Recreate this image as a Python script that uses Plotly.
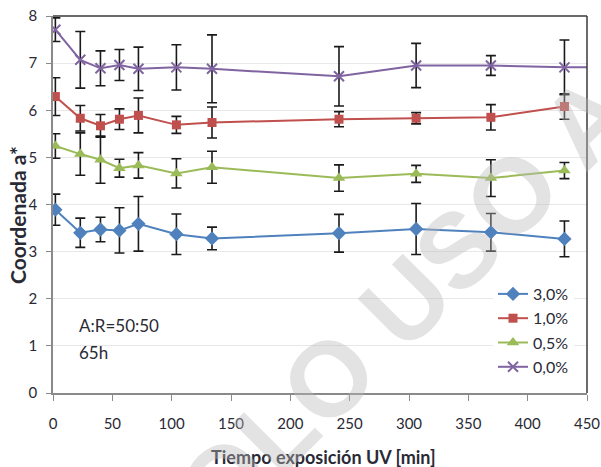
import plotly.graph_objects as go

# ---------------- data ----------------
time_min = [2, 23, 40, 56, 72, 104, 134, 241, 306, 369, 431]

a_30 = [3.89, 3.40, 3.47, 3.45, 3.59, 3.37, 3.28, 3.39, 3.48, 3.41, 3.27]
e_30 = [0.33, 0.31, 0.26, 0.48, 0.58, 0.43, 0.24, 0.40, 0.54, 0.40, 0.38]

a_10 = [6.29, 5.83, 5.67, 5.81, 5.89, 5.69, 5.74, 5.81, 5.83, 5.85, 6.08]
e_10 = [0.40, 0.27, 0.24, 0.22, 0.37, 0.18, 0.33, 0.16, 0.12, 0.27, 0.27]

a_05 = [5.24, 5.07, 4.95, 4.77, 4.83, 4.66, 4.79, 4.56, 4.65, 4.56, 4.72]
e_05 = [0.26, 0.45, 0.50, 0.19, 0.27, 0.31, 0.34, 0.28, 0.18, 0.39, 0.17]

time_00 = [2, 23, 40, 56, 72, 104, 134, 241, 306, 369, 431, 470]
a_00 = [7.71, 7.07, 6.89, 6.96, 6.88, 6.91, 6.88, 6.72, 6.95, 6.95, 6.91, 6.92]
e_00 = [0.25, 0.60, 0.37, 0.33, 0.46, 0.48, 0.72, 0.63, 0.47, 0.21, 0.58, 0.0]

series_names = ["3,0%", "1,0%", "0,5%", "0,0%"]
x_ticks = [0, 50, 100, 150, 200, 250, 300, 350, 400, 450]
y_ticks = [0, 1, 2, 3, 4, 5, 6, 7, 8]

# ---------------- styles ----------------
FONT = "Lato"
TXT = "#2a2a35"
colors = ["#4F81BD", "#C0504D", "#9BBB59", "#8064A2"]
symbols = ["diamond", "square", "triangle-up", "x-thin-open"]
sizes = [11, 9, 11, 10]

L, R, T, B = 53, 14, 16, 74
W, H = 601, 467
PW, PH = W - L - R, H - T - B


def px_x(p):
    return (p - L) / PW


def px_y(p):
    return (H - B - p) / PH


fig = go.Figure()
data = [(time_min, a_30, e_30), (time_min, a_10, e_10),
        (time_min, a_05, e_05), (time_00, a_00, e_00)]
for i, (xs, ys, es) in enumerate(data):
    marker = dict(symbol=symbols[i], size=sizes[i], color=colors[i])
    if symbols[i] == "x-thin-open":
        marker["line"] = dict(color=colors[i], width=2)
    fig.add_trace(go.Scatter(
        x=xs, y=ys, name=series_names[i], mode="lines+markers",
        legendgroup=f"g{i}",
        line=dict(color=colors[i], width=2),
        marker=marker,
        error_y=dict(type="data", array=es, visible=True,
                     color="#1a1a1a", thickness=1.6, width=5),
    ))

fig.update_layout(
    width=W, height=H,
    margin=dict(l=L, r=R, t=T, b=B, autoexpand=False),
    paper_bgcolor="white", plot_bgcolor="white",
    font=dict(family=FONT, size=15, color=TXT),
    showlegend=True,
    legend=dict(x=px_x(574), xanchor="right", y=px_y(277), yanchor="top",
                bgcolor="white", font=dict(family=FONT, size=16, color=TXT),
                tracegroupgap=0.5, itemwidth=30),
    xaxis=dict(range=[0, 450], tickvals=x_ticks, ticktext=[str(v) for v in x_ticks],
               showline=True, linecolor="#8a8a8a", linewidth=1.5,
               ticks="outside", ticklen=6, tickcolor="#8a8a8a", tickwidth=1.2,
               showgrid=False, zeroline=False, automargin=False,
               ticklabelstandoff=10,
               tickfont=dict(family=FONT, size=15, color=TXT)),
    yaxis=dict(range=[0, 8], tickvals=y_ticks, ticktext=[str(v) for v in y_ticks],
               showline=True, linecolor="#8a8a8a", linewidth=1.5,
               ticks="outside", ticklen=5, tickcolor="#8a8a8a", tickwidth=1.2,
               showgrid=True, gridcolor="#e8e8e8", gridwidth=1, zeroline=False,
               automargin=False, ticklabelstandoff=6,
               tickfont=dict(family=FONT, size=15, color=TXT)),
)

# dark top/right frame lines
fig.add_shape(type="line", xref="paper", yref="paper", x0=0, x1=1, y0=1, y1=1,
              line=dict(color="#3a3a3a", width=1.5))
fig.add_shape(type="line", xref="paper", yref="paper", x0=1, x1=1, y0=0, y1=1,
              line=dict(color="#3a3a3a", width=1.5))

# white box behind the note (hides the gridline like the reference)
fig.add_shape(type="rect", xref="paper", yref="paper",
              x0=px_x(67), x1=px_x(180), y0=px_y(362), y1=px_y(312),
              line=dict(width=0), fillcolor="white", layer="between")

# axis titles
fig.add_annotation(xref="paper", yref="paper", x=px_x(323), y=px_y(457),
                   xanchor="center", yanchor="middle", showarrow=False,
                   text="<b>Tiempo exposición UV [min]</b>",
                   font=dict(family=FONT, size=18, color=TXT))
fig.add_annotation(xref="paper", yref="paper", x=px_x(17), y=px_y(215),
                   xanchor="center", yanchor="middle", showarrow=False,
                   textangle=-90, text="<b>Coordenada a*</b>",
                   font=dict(family=FONT, size=21, color=TXT))

# note
fig.add_annotation(xref="paper", yref="paper", x=px_x(77), y=px_y(325),
                   xanchor="left", yanchor="middle", showarrow=False,
                   text="A:R=50:50", font=dict(family=FONT, size=17, color=TXT))
fig.add_annotation(xref="paper", yref="paper", x=px_x(77), y=px_y(352),
                   xanchor="left", yanchor="middle", showarrow=False,
                   text="65h", font=dict(family=FONT, size=17, color=TXT))

# watermark
fig.add_annotation(xref="paper", yref="paper", x=px_x(583), y=px_y(124),
                   xanchor="center", yanchor="middle", showarrow=False,
                   textangle=-45,
                   text="<b>SOLO USO ACADÉMICO</b>",
                   font=dict(family="Liberation Sans", size=106,
                             color="rgba(185,185,185,0.40)"))

fig.write_html("out.html")
